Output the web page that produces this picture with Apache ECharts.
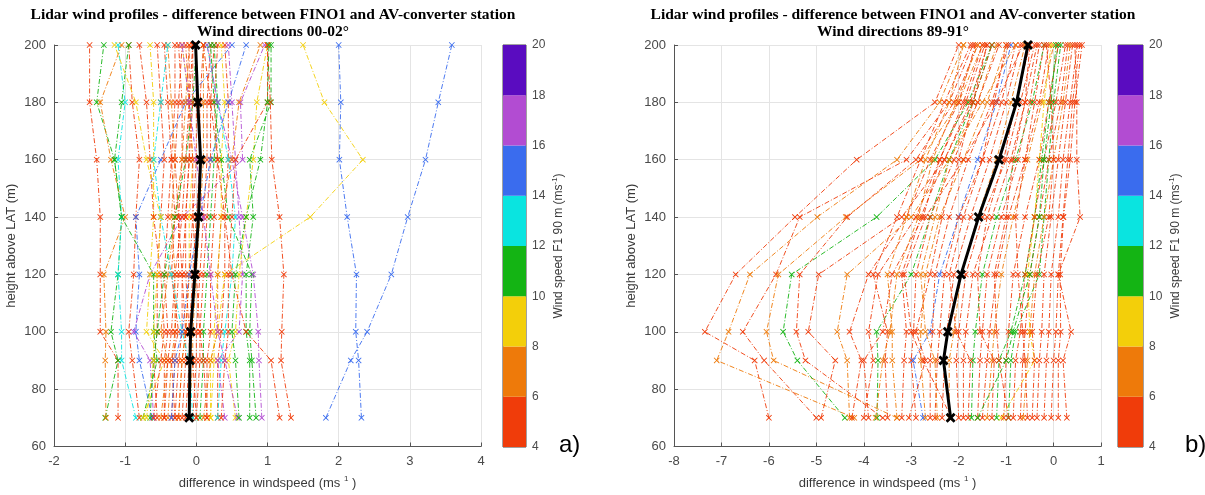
<!DOCTYPE html>
<html>
<head>
<meta charset="utf-8">
<script src="https://cdn.jsdelivr.net/npm/echarts@6/dist/echarts.min.js"></script>
<style>
    html, body { margin: 0; padding: 0; background: #fff; }
    #chart { width: 1205px; height: 495px; }
</style>
</head>
<body>
<div id="chart"></div>
<script>
/* heights of the lidar levels (m above LAT) */
var heights = [70, 90, 100, 120, 140, 160, 180, 200];

/* colour classes of the wind speed at F1 90 m */
var speedBands = [4, 6, 8, 10, 12, 14, 16, 18, 20];
var bandColors = ['#F03C0A', '#EE7A0A', '#F3CF0A', '#14B414', '#0AE4E0', '#3A6CEE', '#B24CD2', '#5A0CC0'];

/*---------------------------- a) wind directions 00-02 ----------------------------*/
var leftSpeed = [5, 11, 7, 13, 5, 15, 17, 10.5, 9, 5, 5, 7, 5, 5, 9, 5, 5, 7, 5, 5,
    11, 5, 9, 5, 13, 17, 9, 11, 11, 17, 5, 5, 15.5, 14.5, 8.5, 5, 7, 5, 11, 13,
    15, 7, 5, 9, 5, 5, 5, 5, 17, 11];
var leftDiff = [
    [-1.1, -1.1, -1.35, -1.35, -1.35, -1.4, -1.5, -1.5],
    [-1.28, -1.1, -1.2, -1.1, -1.05, -1.15, -1.4, -1.3],
    [-1.27, -1.28, -1.27, -1.3, -1.0, -1.2, -1.35, -1.05],
    [-0.85, -1.05, -1.05, -1.1, -1.05, -1.1, -1.0, -1.1],
    [-0.8, -0.9, -0.95, -0.88, -0.85, -0.8, -0.9, -0.95],
    [-0.62, -0.8, -0.85, -0.8, -0.85, -0.5, -0.15, 0.5],
    [-0.6, -0.65, -0.88, -0.65, -0.2, 0.65, 0.62, 0.96],
    [-0.75, -0.55, -0.6, -0.6, -1.05, -1.15, -1.05, -0.95],
    [-0.75, -0.45, -0.7, -0.65, -0.6, -0.6, -0.6, -0.65],
    [-0.55, -0.6, -0.55, -0.55, -0.5, -0.45, -0.5, -0.55],
    [-0.45, -0.45, -0.4, -0.45, -0.4, -0.35, -0.3, -0.3],
    [-0.4, -0.35, -0.3, -0.3, -0.35, -0.3, -0.35, -0.4],
    [-0.35, -0.3, -0.3, -0.25, -0.25, -0.2, -0.2, -0.25],
    [-0.3, -0.25, -0.2, -0.2, -0.15, -0.1, -0.1, -0.15],
    [-0.25, -0.2, -0.15, -0.1, -0.1, -0.05, -0.1, -0.2],
    [-0.2, -0.15, -0.15, -0.1, -0.05, 0.0, 0.0, 0.0],
    [-0.15, -0.1, -0.1, -0.05, 0.0, 0.05, 0.05, 0.1],
    [-0.1, -0.05, -0.05, 0.0, 0.05, 0.1, 0.1, 0.1],
    [-0.05, 0.0, 0.0, 0.05, 0.1, 0.15, 0.15, 0.2],
    [0.0, 0.05, 0.05, 0.1, 0.15, 0.2, 0.2, 0.25],
    [0.05, 0.1, 0.1, 0.15, 0.2, 0.25, 0.3, 0.25],
    [0.15, 0.15, 0.2, 0.2, 0.25, 0.3, 0.25, 0.3],
    [0.2, 0.25, 0.25, 0.3, 0.35, 0.35, 0.4, 0.35],
    [0.3, 0.3, 0.35, 0.4, 0.4, 0.45, 0.45, 0.4],
    [0.3, 0.35, 0.4, 0.5, 0.55, 0.45, 0.3, 0.15],
    [0.4, 0.3, 0.6, 0.65, 0.6, 0.55, 0.5, 0.45],
    [0.55, 0.45, 0.55, 0.6, 0.7, 0.8, 0.85, 1.0],
    [0.75, 0.75, 0.7, 0.7, 0.8, 0.75, 1.05, 1.05],
    [0.84, 0.78, 0.75, 0.78, 0.45, 0.35, 0.25, 0.2],
    [0.92, 0.88, 0.87, 0.8, 0.65, 0.5, 0.3, 0.15],
    [1.17, 1.05, 0.7, 0.5, 0.4, 0.3, 0.2, 0.1],
    [1.33, 1.19, 1.2, 1.23, 1.17, 1.06, 1.04, 1.0],
    [1.82, 2.17, 2.4, 2.74, 2.97, 3.22, 3.4, 3.59],
    [2.32, 2.28, 2.24, 2.25, 2.12, 2.01, 2.03, 2.0],
    [0.2, 0.2, 0.3, 0.4, 1.6, 2.34, 1.8, 1.5],
    [-0.6, -0.5, -0.45, -0.5, -0.6, -0.65, -0.7, -0.8],
    [-0.5, -0.4, -0.5, -0.4, -0.3, -0.2, -0.15, -0.1],
    [-0.3, -0.35, -0.25, -0.35, -0.3, -0.35, -0.4, -0.45],
    [-0.65, -0.6, -0.55, -0.45, -0.3, -0.15, -0.05, 0.0],
    [-0.05, -0.1, -0.2, -0.35, -0.5, -0.6, -0.5, -0.4],
    [-0.35, -0.3, -0.2, -0.1, 0.05, 0.2, 0.45, 0.7],
    [0.1, 0.2, 0.3, 0.3, 0.35, 0.5, 0.6, 0.9],
    [0.35, 0.4, 0.45, 0.45, 0.5, 0.55, 1.0, 1.0],
    [-0.7, -0.6, -0.6, -0.55, -0.5, -0.7, -0.85, -1.15],
    [-0.25, -0.2, -0.15, -0.2, -0.25, -0.3, -0.25, -0.2],
    [0.0, -0.05, -0.1, -0.15, -0.15, -0.1, -0.05, -0.05],
    [-0.45, -0.4, -0.35, -0.3, -0.2, -0.15, -0.1, -0.05],
    [0.15, 0.1, 0.05, 0.0, -0.05, -0.05, -0.1, -0.1],
    [0.58, 0.4, 0.3, 0.2, 0.1, 0.0, -0.1, -0.2],
    [0.6, 0.55, 0.5, 0.55, 0.7, 0.9, 1.0, 1.02]
];
var leftMean = [-0.1, -0.09, -0.08, -0.02, 0.03, 0.06, 0.02, -0.01];

/*---------------------------- b) wind directions 89-91 ----------------------------*/
var rightSpeed = [5, 7, 5, 6.5, 11, 5.5, 4.5, 7.5, 5, 5, 10.5, 5, 7, 5, 5, 15, 7, 5, 5, 5,
    7, 5, 5, 11, 5, 5, 7, 11, 9, 5, 11, 5, 5, 7, 5, 5, 5, 5, 5, 11,
    5, 7, 5, 5, 5, 5, 7, 5, 5, 5];
var rightDiff = [
    [-6.0, -6.3, -7.35, -6.7, -5.45, -4.15, -2.5, -2.0],
    [-4.2, -7.1, -6.85, -6.4, -4.98, -3.3, -2.4, -1.9],
    [-5.0, -6.1, -6.55, -5.85, -5.35, -3.1, -2.2, -1.7],
    [-3.3, -5.9, -6.05, -5.8, -4.38, -2.8, -2.0, -1.5],
    [-4.4, -5.4, -5.7, -5.52, -3.73, -2.5, -1.8, -1.3],
    [-3.6, -5.23, -5.42, -5.35, -4.35, -2.9, -2.1, -1.6],
    [-4.9, -4.6, -5.17, -4.95, -3.2, -2.3, -1.7, -1.4],
    [-4.3, -4.35, -4.56, -4.35, -3.0, -2.2, -1.6, -1.2],
    [-4.25, -4.05, -4.3, -3.9, -3.1, -2.6, -2.0, -1.65],
    [-4.0, -3.8, -3.9, -3.7, -2.9, -2.4, -1.9, -1.5],
    [-3.72, -3.7, -3.73, -3.0, -2.6, -2.2, -1.7, -1.3],
    [-3.5, -3.55, -3.5, -3.8, -3.3, -2.8, -2.3, -1.75],
    [-3.3, -3.4, -3.4, -3.5, -3.1, -2.7, -2.2, -1.9],
    [-3.2, -3.15, -3.1, -3.2, -2.8, -2.3, -1.75, -1.4],
    [-2.9, -3.0, -2.95, -2.9, -2.6, -2.1, -1.6, -1.15],
    [-2.75, -2.96, -2.6, -2.4, -2.0, -1.6, -1.2, -0.9],
    [-2.7, -2.8, -2.8, -2.7, -2.4, -1.9, -1.4, -1.0],
    [-2.6, -2.6, -2.55, -2.5, -2.2, -1.8, -1.3, -0.95],
    [-2.5, -2.45, -2.4, -2.3, -2.0, -1.5, -1.1, -0.8],
    [-2.35, -2.3, -2.25, -2.1, -1.75, -1.35, -1.0, -0.7],
    [-2.2, -2.2, -2.1, -1.95, -1.6, -1.2, -0.9, -0.6],
    [-2.0, -2.05, -2.0, -1.85, -1.5, -1.0, -0.7, -0.4],
    [-1.9, -1.9, -1.85, -1.7, -1.3, -0.9, -0.6, -0.35],
    [-1.73, -1.7, -1.65, -1.5, -1.2, -0.8, -0.45, -0.2],
    [-1.6, -1.55, -1.5, -1.4, -1.1, -0.75, -0.5, -0.3],
    [-1.5, -1.4, -1.35, -1.2, -0.95, -0.6, -0.3, -0.1],
    [-1.4, -1.3, -1.25, -1.1, -0.85, -0.55, -0.25, 0.0],
    [-1.2, -1.15, -0.9, -0.6, -0.4, -0.25, -0.1, 0.1],
    [-1.1, -0.4, -0.5, -0.55, -0.4, -0.3, -0.2, -0.05],
    [-1.05, -1.0, -0.95, -0.85, -0.6, -0.3, -0.1, 0.1],
    [-0.95, -0.9, -0.8, -0.3, -0.2, -0.1, 0.0, 0.15],
    [-0.85, -0.8, -0.7, -0.6, -0.4, -0.2, 0.05, 0.25],
    [-0.7, -0.65, -0.6, -0.5, -0.3, -0.1, 0.15, 0.3],
    [-0.64, -0.55, -0.5, -0.4, -0.2, 0.0, 0.2, 0.35],
    [-0.35, -0.3, -0.25, -0.2, -0.05, 0.1, 0.25, 0.4],
    [-0.2, -0.15, -0.1, -0.05, 0.1, 0.2, 0.35, 0.5],
    [-0.05, 0.0, 0.05, 0.1, 0.2, 0.3, 0.4, 0.55],
    [0.1, 0.1, 0.15, 0.14, 0.21, 0.35, 0.45, 0.6],
    [0.28, 0.2, 0.37, 0.1, 0.56, 0.49, 0.49, 0.45],
    [-1.6, -1.0, -0.85, -0.5, -0.3, -0.2, -0.05, 0.05],
    [-3.05, -2.7, -2.9, -2.6, -2.35, -2.0, -1.7, -1.3],
    [-2.45, -2.5, -2.7, -2.8, -2.5, -2.2, -1.5, -0.8],
    [-1.3, -1.25, -1.55, -1.6, -1.4, -1.05, -0.8, -0.5],
    [-0.45, -0.4, -0.45, -0.35, -0.1, 0.0, -0.05, -0.15],
    [-0.55, -0.6, -0.65, -0.75, -0.8, -0.6, -0.4, -0.2],
    [-3.9, -4.0, -3.6, -3.4, -2.75, -2.4, -1.85, -1.45],
    [-3.75, -3.6, -3.45, -3.3, -2.85, -2.55, -2.05, -1.6],
    [-2.15, -2.75, -3.0, -3.15, -2.7, -1.9, -1.2, -0.65],
    [-1.8, -1.75, -2.05, -2.2, -1.9, -1.5, -1.25, -1.0],
    [-0.95, -1.15, -1.2, -1.25, -1.0, -0.85, -0.6, -0.5]
];
var rightMean = [-2.17, -2.32, -2.23, -1.95, -1.58, -1.15, -0.78, -0.54];

var titleLine1 = 'Lidar wind profiles - difference between FINO1 and AV-converter station';
var leftDirections = 'Wind directions 00-02°';
var rightDirections = 'Wind directions 89-91°';

var crossPath = 'path://M0,1L1,0L5,4L9,0L10,1L6,5L10,9L9,10L5,6L1,10L0,9L4,5Z';
var boldCrossPath = 'path://M0,2L2,0L5,3L8,0L10,2L7,5L10,8L8,10L5,7L2,10L0,8L3,5Z';

window.onload = function () {
    initChart();
};

function colorFor(speed) {
    for (var i = 0; i < bandColors.length; i++) {
        if (speed < speedBands[i + 1]) return bandColors[i];
    }
    return bandColors[bandColors.length - 1];
}

function profileSeries(axis, values, speed) {
    var c = colorFor(speed);
    return {
        type: 'line',
        xAxisIndex: axis,
        yAxisIndex: axis,
        data: heights.map(function (h, k) { return [values[k], h]; }),
        symbol: crossPath,
        symbolSize: 6,
        lineStyle: { color: c, width: 1, type: [5, 2, 1, 2], opacity: 0.9 },
        itemStyle: { color: c },
        silent: true,
        z: 2
    };
}

function meanSeries(axis, values) {
    return {
        type: 'line',
        xAxisIndex: axis,
        yAxisIndex: axis,
        data: heights.map(function (h, k) { return [values[k], h]; }),
        symbol: boldCrossPath,
        symbolSize: 10,
        lineStyle: { color: '#000', width: 3 },
        itemStyle: { color: '#000' },
        silent: true,
        z: 5
    };
}

function colorbarSeries(axis) {
    var list = [{
        type: 'bar', xAxisIndex: axis, yAxisIndex: axis, stack: 'cb' + axis,
        data: [speedBands[0]], barWidth: '100%', itemStyle: { color: 'transparent' }, silent: true
    }];
    for (var i = 0; i < bandColors.length; i++) {
        list.push({
            type: 'bar', xAxisIndex: axis, yAxisIndex: axis, stack: 'cb' + axis,
            data: [speedBands[i + 1] - speedBands[i]], barWidth: '100%',
            itemStyle: { color: bandColors[i] }, silent: true
        });
    }
    return list;
}

var tickFont = { fontSize: 13, color: '#4a4a4a', fontFamily: 'Liberation Sans' };
var nameFont = {
    fontSize: 13, color: '#3a3a3a', fontFamily: 'Liberation Sans',
    rich: { sup: { fontSize: 8, color: '#3a3a3a', padding: [0, 0, 10, 0] } }
};

function mainX(grid, min, max) {
    return {
        type: 'value', gridIndex: grid, min: min, max: max, interval: 1,
        name: 'difference in windspeed (ms {sup|1} )', nameLocation: 'middle', nameGap: 28,
        nameTextStyle: nameFont,
        axisLine: { onZero: false, lineStyle: { color: '#555' } },
        axisTick: { inside: true, length: 4, lineStyle: { color: '#555' } },
        axisLabel: tickFont,
        splitLine: { lineStyle: { color: '#e4e4e4' } }
    };
}

function mainY(grid) {
    return {
        type: 'value', gridIndex: grid, min: 60, max: 200, interval: 20,
        name: 'height above LAT (m)', nameLocation: 'middle', nameGap: 36, nameRotate: 90,
        nameTextStyle: nameFont,
        axisLine: { show: true, onZero: false, lineStyle: { color: '#555' } },
        axisTick: { show: true, inside: true, length: 4, lineStyle: { color: '#555' } },
        axisLabel: tickFont,
        splitLine: { lineStyle: { color: '#e4e4e4' } }
    };
}

function barX(grid) {
    return {
        type: 'category', gridIndex: grid, data: ['cb'], show: false, boundaryGap: true
    };
}

function barY(grid) {
    return {
        type: 'value', gridIndex: grid, min: speedBands[0], max: speedBands[speedBands.length - 1], interval: 2,
        position: 'right',
        name: 'Wind speed F1 90 m (ms{sup|-1})', nameLocation: 'middle', nameGap: 25, nameRotate: 90,
        nameTextStyle: {
            fontSize: 12, color: '#3a3a3a', fontFamily: 'Liberation Sans',
            rich: { sup: { fontSize: 8, color: '#3a3a3a', padding: [0, 0, 8, 0] } }
        },
        axisLine: { show: false },
        axisTick: { show: false },
        axisLabel: { fontSize: 12, color: '#4a4a4a', fontFamily: 'Liberation Sans', margin: 6 },
        splitLine: { show: false }
    };
}

function initChart() {
    var myChart = echarts.init(document.getElementById('chart'));
    var titleStyle = { fontFamily: 'Liberation Serif', fontWeight: 'bold', fontSize: 15.5, color: '#000', lineHeight: 17 };
    var series = [];
    leftDiff.forEach(function (v, i) { series.push(profileSeries(0, v, leftSpeed[i])); });
    rightDiff.forEach(function (v, i) { series.push(profileSeries(1, v, rightSpeed[i])); });
    series.push(meanSeries(0, leftMean));
    series.push(meanSeries(1, rightMean));
    series = series.concat(colorbarSeries(2), colorbarSeries(3));

    var option = {
        animation: false,
        backgroundColor: '#fff',
        title: [
            { text: titleLine1 + '\n' + leftDirections, left: 268, top: 1, textAlign: 'center', textStyle: titleStyle },
            { text: titleLine1 + '\n' + rightDirections, left: 888, top: 1, textAlign: 'center', textStyle: titleStyle },
            { text: 'a)', left: 554, top: 428, textStyle: { fontSize: 24, fontWeight: 'normal', color: '#000', fontFamily: 'Liberation Sans' } },
            { text: 'b)', left: 1180, top: 428, textStyle: { fontSize: 24, fontWeight: 'normal', color: '#000', fontFamily: 'Liberation Sans' } }
        ],
        grid: [
            { left: 54, top: 45, width: 427, height: 402 },
            { left: 674, top: 45, width: 427, height: 402 },
            { left: 503, top: 45, width: 23, height: 402, show: true, borderColor: '#444', borderWidth: 1, backgroundColor: 'transparent' },
            { left: 1118, top: 45, width: 25, height: 402, show: true, borderColor: '#444', borderWidth: 1, backgroundColor: 'transparent' }
        ],
        xAxis: [mainX(0, -2, 4), mainX(1, -8, 1), barX(2), barX(3)],
        yAxis: [mainY(0), mainY(1), barY(2), barY(3)],
        series: series
    };

    myChart.setOption(option);
}
</script>
</body>
</html>
